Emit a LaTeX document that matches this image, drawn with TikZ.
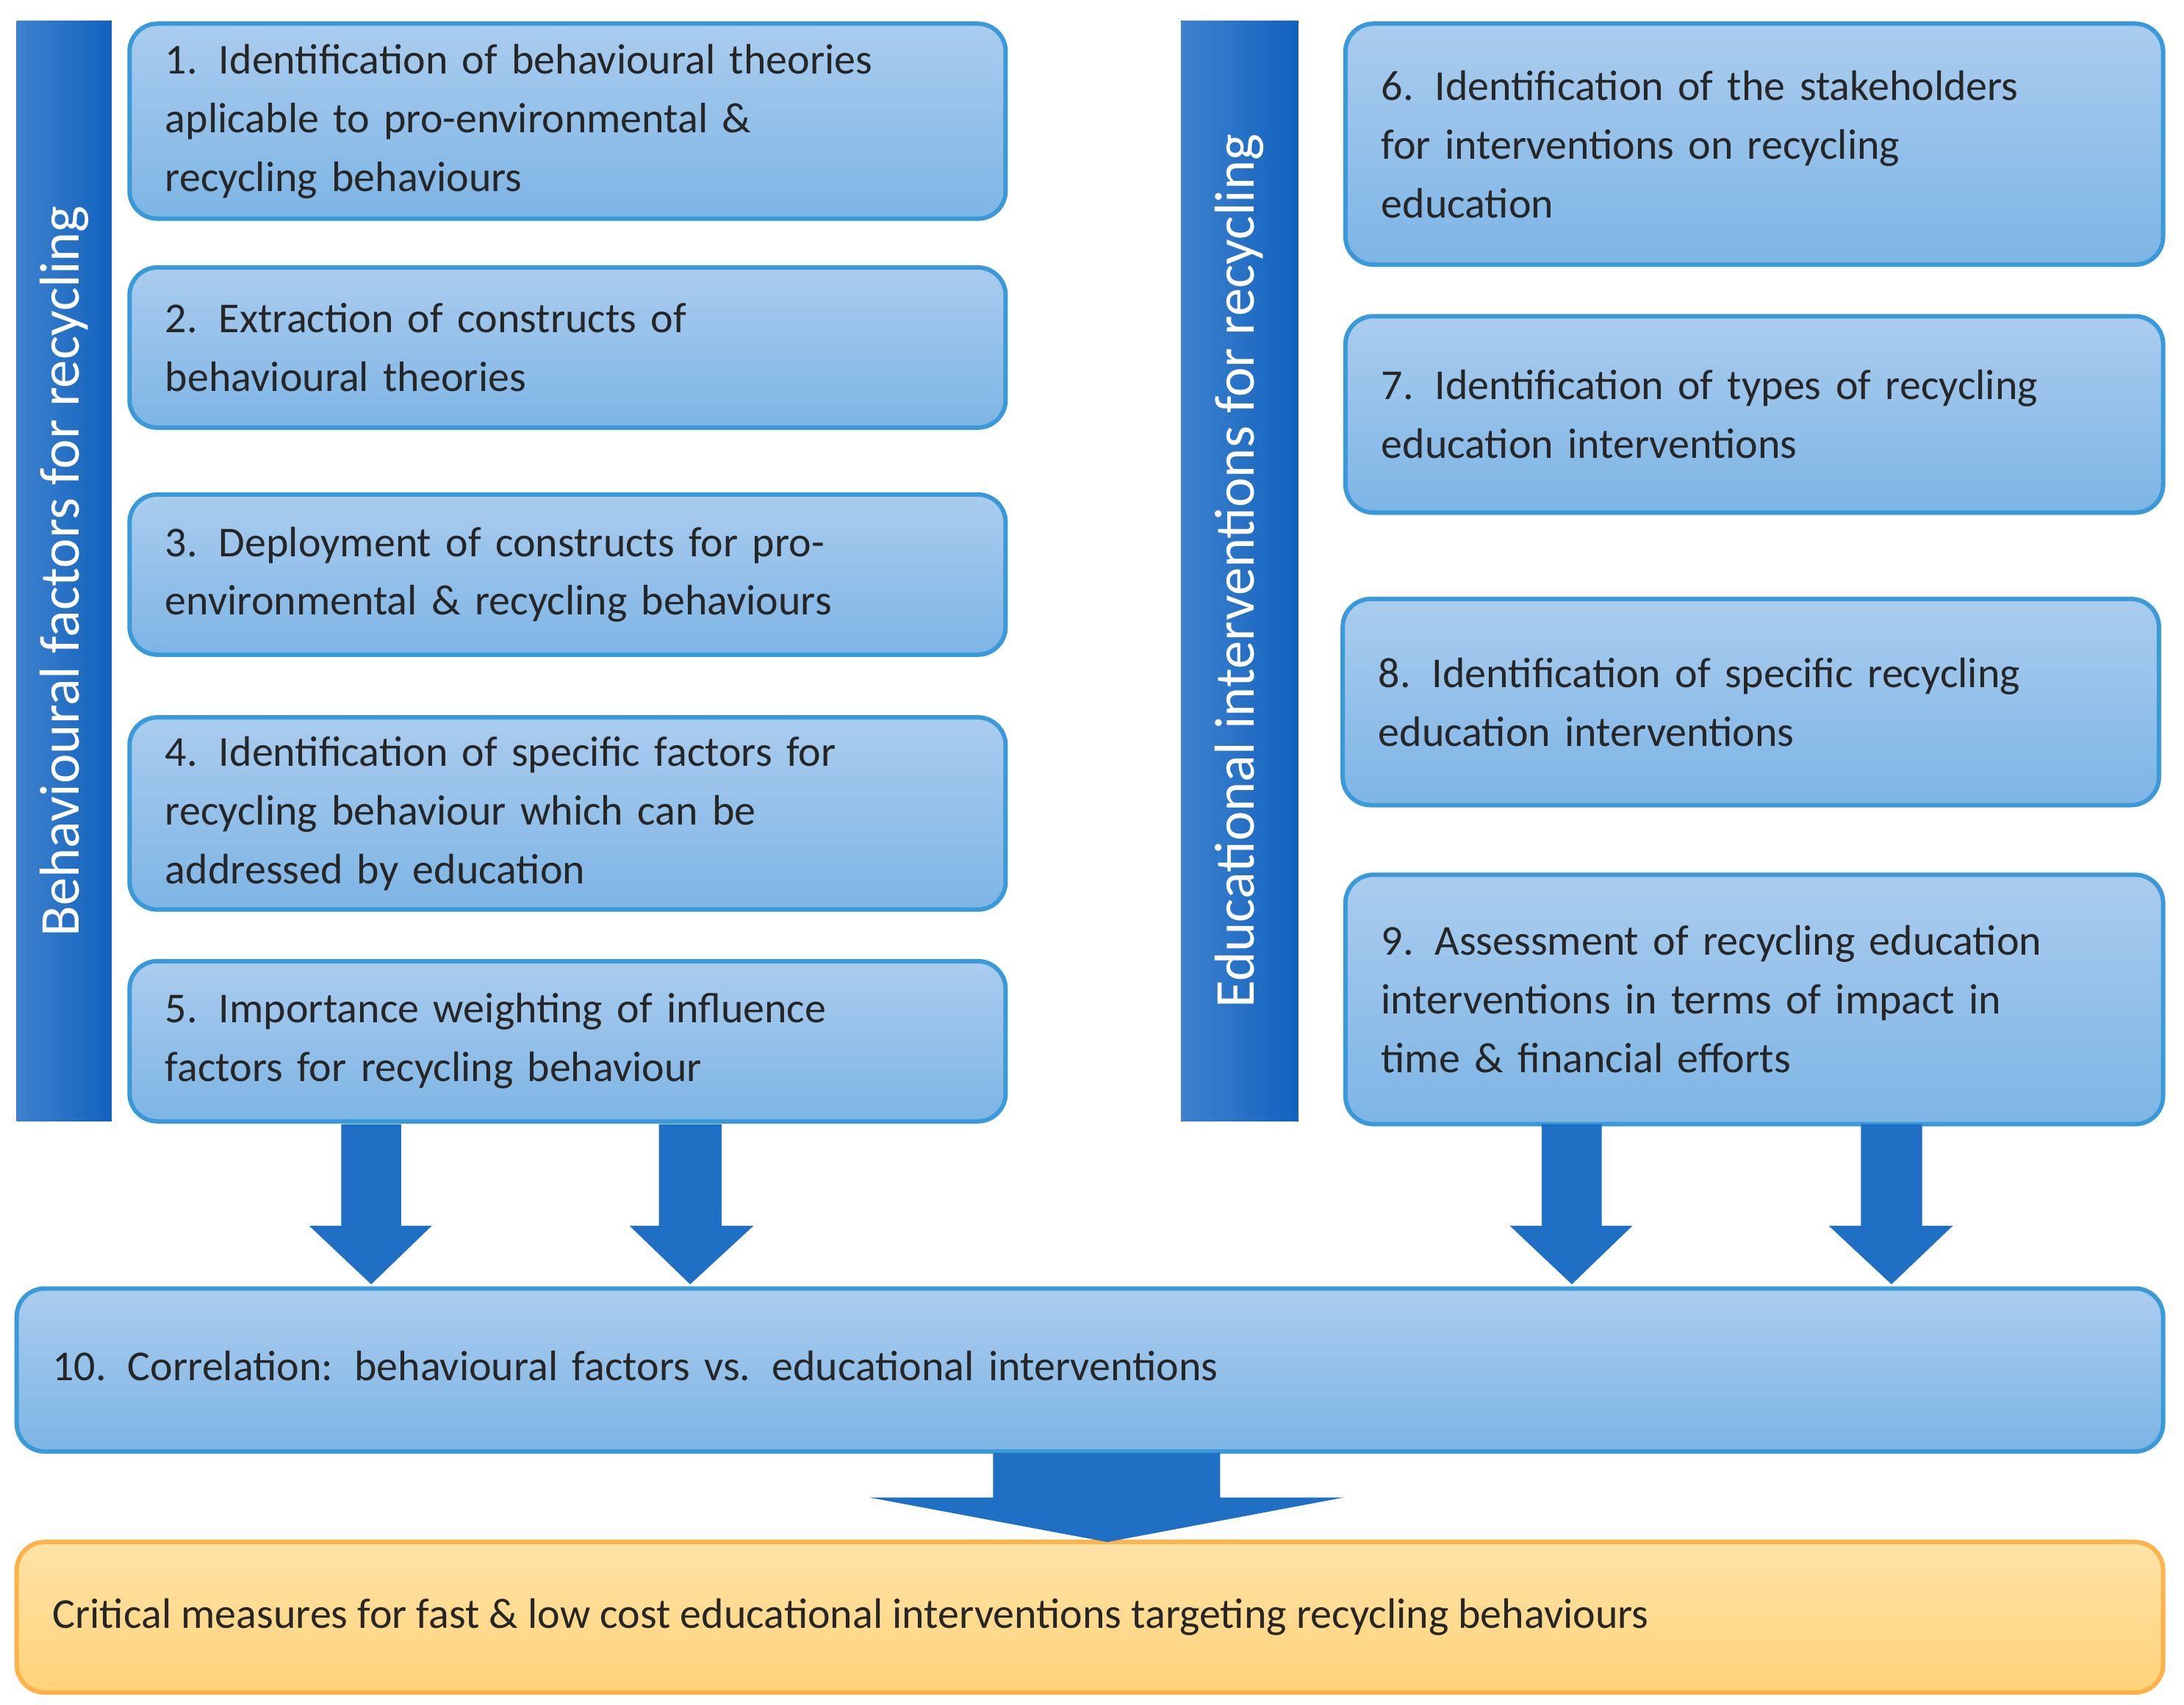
\documentclass[tikz,border=0pt]{standalone}
\usepackage{fontspec}
\setmainfont{Carlito}
\begin{document}
\begin{tikzpicture}[x=0.01cm,y=-0.01cm,
  bbox/.style={draw=boxline,line width=0.9pt,rounded corners=0.2cm,top color=boxtop,bottom color=boxbot},
  side/.style={left color=sidea,right color=sideb,draw=none},
  btext/.style={anchor=west,align=left,font=\fontsize{8.7}{12}\selectfont,text=black!85,inner sep=0pt},
  stext/.style={rotate=90,font=\fontsize{11.5}{14}\selectfont,text=white},
  barrow/.style={fill=arrowc,draw=none}]
\definecolor{boxtop}{HTML}{AACCEE}
\definecolor{boxbot}{HTML}{7DB5E5}
\definecolor{boxline}{HTML}{3A9AD9}
\definecolor{sidea}{HTML}{3E82CF}
\definecolor{sideb}{HTML}{1262BE}
\definecolor{arrowc}{HTML}{1F6FC5}
\definecolor{ytop}{HTML}{FFE3A6}
\definecolor{ybot}{HTML}{FFD37A}
\fill[white] (0,0) rectangle (1568,1224);
% sidebars
\fill[side] (12,15) rectangle (80,805);
\node[stext] (sl) at (46,410) {Behavioural factors for recycling};
\fill[side] (848,15) rectangle (932,805);
\node[stext] (sr) at (890,410) {Educational interventions for recycling};
% boxes
\newcommand\bx[7]{\draw[bbox] (#2,#3) rectangle (#4,#5);
  \node[btext,text width=(#4-#2-40)*0.01cm] (#1) at (#2+25,{(#3+#5)/2+#6}) {#7};}
\bx{b1}{93}{17}{722}{157}{0}{1. Identification of behavioural theories\\aplicable to pro-environmental \&\\recycling behaviours}
\bx{b2}{93}{192}{722}{307}{0}{2. Extraction of constructs of\\behavioural theories}
\bx{b3}{93}{355}{722}{470}{0}{3. Deployment of constructs for pro-\\environmental \& recycling behaviours}
\bx{b4}{93}{515}{722}{653}{0}{4. Identification of specific factors for\\recycling behaviour which can be\\addressed by education}
\bx{b5}{93}{690}{722}{805}{0}{5. Importance weighting of influence\\factors for recycling behaviour}
\bx{b6}{966}{17}{1553}{190}{0}{6. Identification of the stakeholders\\for interventions on recycling\\education}
\bx{b7}{966}{227}{1553}{368}{0}{7. Identification of types of recycling\\education interventions}
\bx{b8}{964}{430}{1550}{578}{0}{8. Identification of specific recycling\\education interventions}
\bx{b9}{966}{628}{1553}{807}{0}{9. Assessment of recycling education\\interventions in terms of impact in\\time \& financial efforts}
\bx{b10}{12}{925}{1553}{1042}{-3}{10. Correlation: behavioural factors vs. educational interventions}
\draw[draw=ybot!60!orange,line width=0.9pt,rounded corners=0.2cm,top color=ytop,bottom color=ybot] (12,1107) rectangle (1553,1215);
\node[btext] (fin) at (37,1161) {Critical measures for fast \& low cost educational interventions targeting recycling behaviours};
% arrows
\newcommand\dar[4]{\fill[barrow] (#1,807) -- (#2,807) -- (#2,880) -- (#4,880) -- ({(#1+#2)/2},922) -- (#3,880) -- (#1,880) -- cycle;}
\dar{245}{288}{222}{310}
\dar{473}{518}{452}{541}
\dar{1107}{1150}{1084}{1172}
\dar{1336}{1380}{1313}{1402}
\fill[barrow] (713,1043) -- (876,1043) -- (876,1075) -- (965,1075) -- (795,1107) -- (624,1075) -- (713,1075) -- cycle;
\end{tikzpicture}
\end{document}
